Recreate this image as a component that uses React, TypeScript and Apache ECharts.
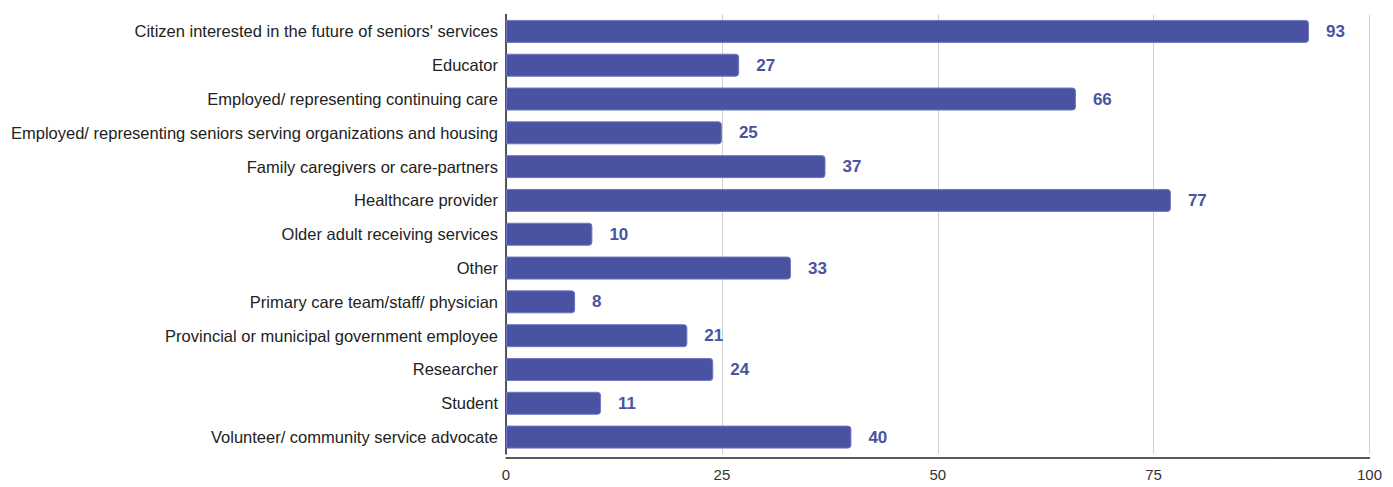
import React, { useEffect, useRef } from "react";
import * as echarts from "echarts";

const categories = [
  "Citizen interested in the future of seniors' services",
  "Educator",
  "Employed/ representing continuing care",
  "Employed/ representing seniors serving organizations and housing",
  "Family caregivers or care-partners",
  "Healthcare provider",
  "Older adult receiving services",
  "Other",
  "Primary care team/staff/ physician",
  "Provincial or municipal government employee",
  "Researcher",
  "Student",
  "Volunteer/ community service advocate",
];
const values = [93, 27, 66, 25, 37, 77, 10, 33, 8, 21, 24, 11, 40];
const xTicks = [0, 25, 50, 75, 100];

export default function App() {
  const ref = useRef<HTMLDivElement>(null);
  useEffect(() => {
    if (!ref.current) return;
    const chart = echarts.init(ref.current, null, { renderer: "svg" });
    chart.setOption({
      animation: false,
      grid: { left: 498, right: 15, top: 6.5, bottom: 33 },
      xAxis: {
        type: "value",
        min: xTicks[0],
        max: xTicks[xTicks.length - 1],
        interval: 25,
        offset: 4,
        axisLine: { show: true, lineStyle: { color: "#222", width: 1.5 } },
        axisTick: { show: false },
        splitLine: { show: true, lineStyle: { color: "#d0d0d0", width: 1 } },
        axisLabel: {
          color: "#333",
          fontSize: 15,
          fontFamily: "Liberation Sans, Arial, sans-serif",
          margin: 9,
        },
      },
      yAxis: {
        type: "category",
        data: categories,
        inverse: true,
        axisLine: { show: true, lineStyle: { color: "#222", width: 1.5 } },
        axisTick: { show: false },
        axisLabel: {
          color: "#222",
          fontSize: 16.5,
          fontFamily: "Liberation Sans, Arial, sans-serif",
          margin: 8,
        },
      },
      series: [
        {
          type: "bar",
          data: values,
          barWidth: 23,
          itemStyle: {
            color: "#4a53a1",
            borderColor: "#7077c0",
            borderWidth: 1,
            borderRadius: [0, 3, 3, 0],
          },
          label: {
            show: true,
            position: "right",
            distance: 17,
            color: "#4a53a1",
            fontSize: 17,
            fontWeight: "bold",
            fontFamily: "Liberation Sans, Arial, sans-serif",
          },
        },
      ],
    });
    return () => chart.dispose();
  }, []);
  return <div ref={ref} style={{ width: 1377, height: 479 }} />;
}
